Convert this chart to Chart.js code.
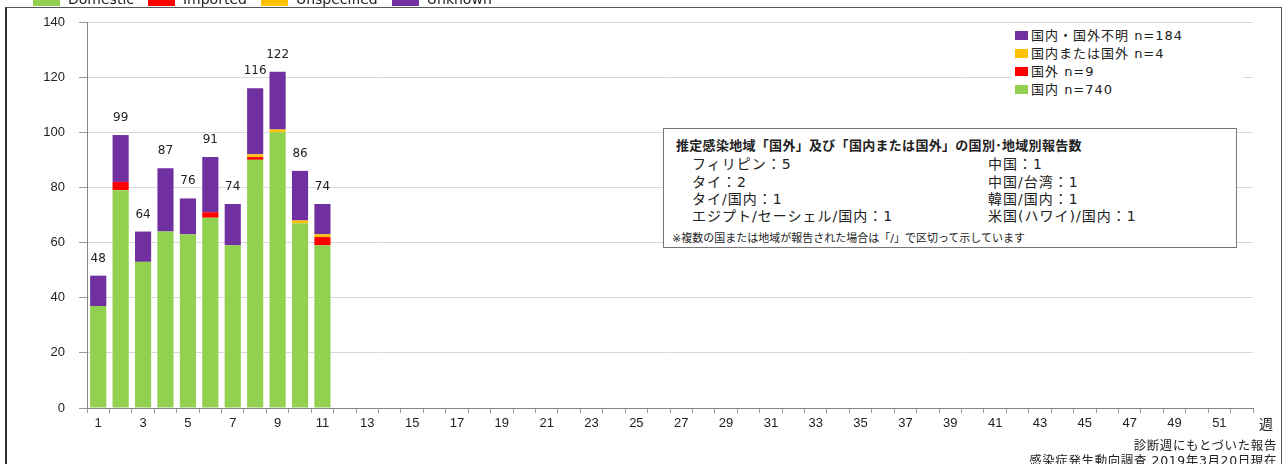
<!DOCTYPE html>
<html>
<head>
<meta charset="utf-8">
<script src="https://cdn.jsdelivr.net/npm/chart.js@4"></script>
<style>
  body { margin: 0; width: 1286px; height: 464px; overflow: hidden; background: #fff; position: relative;
         font-family: "DejaVu Sans", "Noto Sans CJK JP", sans-serif; color: #222; }
  #frame { position: absolute; left: 5px; top: 7px; width: 1274px; height: 470px; border: 1px solid #555; border-left: 2px solid #333; }
  canvas { position: absolute; left: 0; top: 0; }
  #toplegend { position: absolute; top: -9px; left: 33px; font-size: 14px; white-space: nowrap; }
  #toplegend span.sw { display: inline-block; width: 27px; height: 12px; vertical-align: middle; margin-right: 8px; }
  #toplegend span.it { margin-right: 14px; }
  #legend { position: absolute; left: 1012px; top: 27px; width: 228px; background: #fff; font-size: 13px; line-height: 18px; padding-left: 3px; letter-spacing: 1px; }
  #legend .sw { display: inline-block; width: 13px; height: 9px; margin-right: 3px; }
  #note { position: absolute; left: 663px; top: 128px; width: 572px; height: 118px; border: 1px solid #777; background: #fff; }
  #note .title { position: absolute; left: 12px; top: 6px; font-weight: bold; font-size: 13px; letter-spacing: 0.3px; }
  #note .c { position: absolute; font-size: 14px; letter-spacing: 1px; }
  #note .small { position: absolute; left: 8px; top: 100px; font-size: 11px; }
  .foot { position: absolute; right: 9px; font-size: 12.5px; letter-spacing: 0.6px; }
  #wk { position: absolute; left: 1259px; top: 413px; font-size: 14px; }
</style>
</head>
<body>
<div id="frame"></div>
<canvas id="c" width="1286" height="464"></canvas>
<div id="toplegend"></div>
<div id="legend"></div>
<div id="note">
  <div class="title">推定感染地域「国外」及び「国内または国外」の国別･地域別報告数</div>
  <div class="c" style="left:28px;top:24px">フィリピン：5</div>
  <div class="c" style="left:324px;top:24px">中国：1</div>
  <div class="c" style="left:28px;top:42px">タイ：2</div>
  <div class="c" style="left:324px;top:42px">中国/台湾：1</div>
  <div class="c" style="left:28px;top:59px">タイ/国内：1</div>
  <div class="c" style="left:324px;top:59px">韓国/国内：1</div>
  <div class="c" style="left:28px;top:76px">エジプト/セーシェル/国内：1</div>
  <div class="c" style="left:324px;top:76px">米国(ハワイ)/国内：1</div>
  <div class="small">※複数の国または地域が報告された場合は「/」で区切って示しています</div>
</div>
<div id="wk">週</div>
<div class="foot" style="top:435px">診断週にもとづいた報告</div>
<div class="foot" style="top:450px">感染症発生動向調査 2019年3月20日現在</div>
<script>
const weeks = Array.from({ length: 52 }, (_, i) => String(i + 1));
const domestic    = [37, 79, 53, 64, 63, 69, 59, 90, 100, 67, 59];
const imported    = [0, 3, 0, 0, 0, 2, 0, 1, 0, 0, 3];
const unspecified = [0, 0, 0, 0, 0, 0, 0, 1, 1, 1, 1];
const unknown     = [11, 17, 11, 23, 13, 20, 15, 24, 21, 18, 11];
const yTicks = [0, 20, 40, 60, 80, 100, 120, 140];

const series = [
  { label: 'Domestic', jp: '国内 n=740', data: domestic, color: '#92d050' },
  { label: 'Imported', jp: '国外 n=9', data: imported, color: '#ff0000' },
  { label: 'Unspecified', jp: '国内または国外 n=4', data: unspecified, color: '#ffc000' },
  { label: 'Unknown', jp: '国内・国外不明 n=184', data: unknown, color: '#7030a0' }
];

document.getElementById('toplegend').innerHTML = series.map((s) =>
  `<span class="it"><span class="sw" style="background:${s.color}"></span>${s.label}</span>`).join('');
document.getElementById('legend').innerHTML = series.slice().reverse().map((s) =>
  `<div><span class="sw" style="background:${s.color}"></span>${s.jp}</div>`).join('');

const totals = domestic.map((d, i) => d + imported[i] + unspecified[i] + unknown[i]);

const totalLabels = {
  id: 'totalLabels',
  afterDatasetsDraw(chart) {
    const { ctx } = chart;
    const meta = chart.getDatasetMeta(3);
    ctx.save();
    ctx.font = '12px "DejaVu Sans"';
    ctx.fillStyle = '#222';
    ctx.textAlign = 'center';
    totals.forEach((t, i) => {
      const el = meta.data[i];
      ctx.fillText(String(t), el.x, chart.scales.y.getPixelForValue(t) - 14);
    });
    ctx.restore();
  }
};

new Chart(document.getElementById('c'), {
  type: 'bar',
  data: {
    labels: weeks,
    datasets: series.map((s) => ({
      label: s.label, data: s.data, backgroundColor: s.color,
      barPercentage: 0.72, categoryPercentage: 1, borderWidth: 0
    }))
  },
  options: {
    responsive: false, animation: false,
    layout: { padding: { top: 22, right: 33, left: 0, bottom: 0 } },
    plugins: { legend: { display: false }, tooltip: { enabled: false } },
    scales: {
      x: {
        stacked: true,
        afterFit: (s) => { s.height = 56; },
        grid: { display: true, drawOnChartArea: false, offset: true, color: '#999', tickLength: 5 },
        border: { color: '#888' },
        ticks: {
          autoSkip: false, maxRotation: 0, color: '#222', font: { size: 13 }, padding: 3,
          callback: (v, i) => (i % 2 === 0 ? weeks[i] : '')
        }
      },
      y: {
        stacked: true, min: 0, max: 140,
        afterFit: (s) => { s.width = 87; },
        afterBuildTicks: (s) => { s.ticks = yTicks.map((v) => ({ value: v })); },
        grid: { color: '#d9d9d9', tickLength: 8, tickColor: '#999' },
        border: { color: '#888' },
        ticks: { color: '#222', font: { size: 13 }, padding: 14 }
      }
    }
  },
  plugins: [totalLabels]
});
</script>
</body>
</html>
